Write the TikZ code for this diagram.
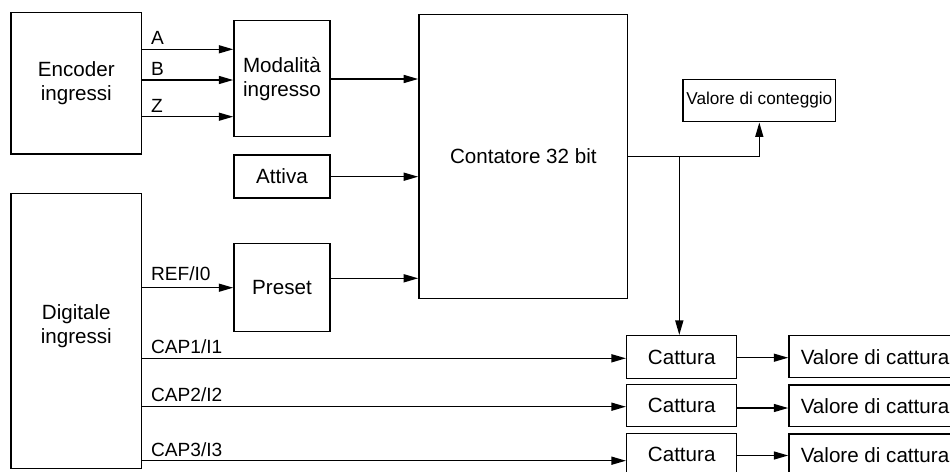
\documentclass[tikz,border=0pt]{standalone}
\usepackage{fontspec}
\setmainfont{Liberation Sans}
\usetikzlibrary{arrows.meta}
\newcommand{\mainfs}{\fontsize{20.6}{24}\selectfont}
\newcommand{\lblfs}{\fontsize{19.1}{22}\selectfont}
\newcommand{\smallfs}{\fontsize{17.2}{20}\selectfont}
\begin{document}
\begin{tikzpicture}[x=1pt,y=-1pt,
  box/.style={draw, line width=1.5pt, inner sep=0pt, align=center, font=\mainfs},
  arr/.style={line width=1.45pt, -{Triangle[length=14.5pt,width=8pt]}},
  lbl/.style={font=\lblfs, inner sep=0pt, anchor=base west, xshift=8pt}]
\useasboundingbox (0,0) rectangle (950,471);
\fill[white] (0,0) rectangle (950,471);
\clip (0,0) rectangle (950,471);

% blocks
\node[box, minimum width=130.7pt, minimum height=141.3pt] (enc) at (76.3,83.3) {Encoder\\ingressi};
\node[box, minimum width=96pt, minimum height=116pt] (mod) at (282,78.7) {Modalità\\ingresso};
\node[box, minimum width=96pt, minimum height=43pt] (att) at (282,176.5) {Attiva};
\node[box, minimum width=96pt, minimum height=88.4pt] (pre) at (282,287.5) {Preset};
\node[box, minimum width=208.7pt, minimum height=284pt] (cnt) at (523.3,156.3) {Contatore 32 bit};
\node[box, font=\smallfs, minimum width=152.7pt, minimum height=42.4pt] (vc) at (759.3,100.5) {Valore di conteggio};
\node[box, minimum width=130.7pt, minimum height=275pt] (dig) at (76.3,330.8) {};
\node[font=\mainfs, align=center, inner sep=0pt] (digtxt) at (76.3,326.5) {Digitale\\ingressi};

\node[box, minimum width=110pt, minimum height=42.6pt] (cat1) at (681.7,357) {Cattura};
\node[box, minimum width=110pt, minimum height=42.4pt] (cat2) at (681.7,405.5) {Cattura};
\node[box, minimum width=110pt, minimum height=42.6pt] (cat3) at (681.7,454.7) {Cattura};
\node[box, minimum width=172pt, minimum height=42pt] (val1) at (875,356.7) {Valore di cattura};
\node[box, minimum width=172pt, minimum height=41.7pt] (val2) at (875,405.8) {Valore di cattura};
\node[box, minimum width=172pt, minimum height=42.5pt] (val3) at (875,455.2) {Valore di cattura};

% signal heights
\coordinate (yA) at (0,49.3);
\coordinate (yB) at (0,80);
\coordinate (yZ) at (0,116.7);
\coordinate (yM) at (0,79);
\coordinate (yT) at (0,176.7);
\coordinate (yR) at (0,287.7);
\coordinate (yP) at (0,278.3);
\coordinate (yO) at (0,156.7);
\coordinate (br) at (679.3,156.7);
\coordinate (y1) at (0,358.3);
\coordinate (y2) at (0,406.7);
\coordinate (y3) at (0,460.7);
\coordinate (z1) at (0,357.7);
\coordinate (z2) at (0,408);
\coordinate (z3) at (0,455.5);

% encoder inputs
\draw[arr] (enc.east |- yA) -- (mod.west |- yA) node[lbl, at start, yshift=5pt] {A};
\draw[arr] (enc.east |- yB) -- (mod.west |- yB) node[lbl, at start, yshift=5pt] {B};
\draw[arr] (enc.east |- yZ) -- (mod.west |- yZ) node[lbl, at start, yshift=4.4pt] {Z};

% into the counter
\draw[arr] (mod.east |- yM) -- (cnt.west |- yM);
\draw[arr] (att.east |- yT) -- (cnt.west |- yT);
\draw[arr] (pre.east |- yP) -- (cnt.west |- yP);
\draw[arr] (dig.east |- yR) -- (pre.west |- yR) node[lbl, at start, yshift=7.7pt] {REF/I0};

% counter outputs
\draw[arr] (cnt.east |- yO) -| (vc.south);
\draw[arr] (br) -- (br |- cat1.north);

% capture inputs
\draw[arr] (dig.east |- y1) -- (cat1.west |- y1) node[lbl, at start, yshift=5pt] {CAP1/I1};
\draw[arr] (dig.east |- y2) -- (cat2.west |- y2) node[lbl, at start, yshift=5.7pt] {CAP2/I2};
\draw[arr] (dig.east |- y3) -- (cat3.west |- y3) node[lbl, at start, yshift=4.7pt] {CAP3/I3};

% capture values
\draw[arr] (cat1.east |- z1) -- (val1.west |- z1);
\draw[arr] (cat2.east |- z2) -- (val2.west |- z2);
\draw[arr] (cat3.east |- z3) -- (val3.west |- z3);
\end{tikzpicture}
\end{document}
